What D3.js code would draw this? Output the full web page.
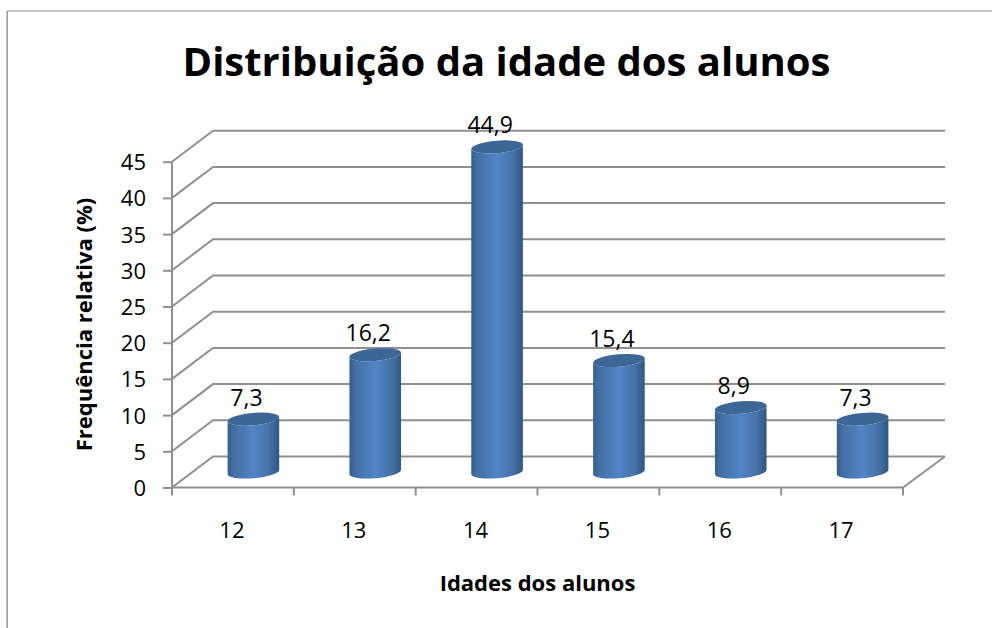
<!DOCTYPE html>
<html>
<head>
<meta charset="utf-8">
<title>Distribuição da idade dos alunos</title>
<script src="https://d3js.org/d3.v7.min.js"></script>
<style>
	body { margin: 0; background: #fff; }
	svg { display: block; }
	text { font-family: "Open Sans", sans-serif; fill: #000; }
</style>
</head>
<body>
<script>
	// data
	var idades = ["12", "13", "14", "15", "16", "17"];
	var frequencias = [7.3, 16.2, 44.9, 15.4, 8.9, 7.3];
	var rotulos = ["7,3", "16,2", "44,9", "15,4", "8,9", "7,3"];
	var yTicks = [0, 5, 10, 15, 20, 25, 30, 35, 40, 45];

	var width = 992, height = 628;
	var depthX = 41, depthY = 31;	// 3d offset front -> back wall
	var barW = 51.6, ry = 6.2, tilt = 2.2;
	var gridColor = "#909090";

	var x = d3.scaleBand().domain(idades).range([172, 903]);
	var y = d3.scaleLinear().domain([0, 45]).range([487.5, 161.7]);

	var svg = d3.select("body").append("svg")
		.attr("width", width)
		.attr("height", height);

	// gradient of the cylinders
	var defs = svg.append("defs");
	var grad = defs.append("linearGradient").attr("id", "cyl");
	grad.append("stop").attr("offset", "0%").attr("stop-color", "#335f90");
	grad.append("stop").attr("offset", "12%").attr("stop-color", "#436fa5");
	grad.append("stop").attr("offset", "50%").attr("stop-color", "#5285c6");
	grad.append("stop").attr("offset", "80%").attr("stop-color", "#4672a8");
	grad.append("stop").attr("offset", "100%").attr("stop-color", "#2f5782");

	// chart frame, only top and left are visible
	svg.append("path")
		.attr("d", "M992,11H7.5V628")
		.attr("fill", "none")
		.attr("stroke", "#8a8a8a")
		.attr("stroke-width", 1);
	svg.append("line")
		.attr("x1", 7).attr("x2", 7).attr("y1", 11).attr("y2", 628)
		.attr("stroke", "#a8a8a8")
		.attr("stroke-width", 1.5);

	// walls
	var grid = svg.append("g")
		.attr("fill", "none")
		.attr("stroke", gridColor)
		.attr("stroke-width", 2);

	grid.selectAll("path.grade")
		.data(yTicks)
		.enter().append("path")
		.attr("class", "grade")
		.attr("d", function(d) {
			return "M172," + y(d) + "L" + (172 + depthX) + "," + (y(d) - depthY) + "H945";
		});

	// right edge of the floor
	grid.append("path")
		.attr("d", "M903," + y(0) + "L945," + (y(0) - depthY));

	// y axis
	var yAxis = d3.axisLeft(y)
		.tickValues(yTicks)
		.tickSize(9)
		.tickPadding(17);
	var gy = svg.append("g")
		.attr("transform", "translate(172,0)")
		.call(yAxis);
	gy.select(".domain").attr("d", "M0," + y(45) + "V" + y(0)).attr("stroke", gridColor).attr("stroke-width", 2);
	gy.selectAll(".tick line").attr("stroke", gridColor).attr("stroke-width", 2);
	gy.selectAll("text").style("font-size", "22px").style("font-family", "Open Sans").attr("fill", "#000").attr("x", -26).attr("y", 1);

	// x axis: labels centred in the band, ticks on the band edges
	var xAxis = d3.axisBottom(x).tickSize(0).tickPadding(35);
	var gx = svg.append("g")
		.attr("transform", "translate(0," + y(0) + ")")
		.call(xAxis);
	gx.select(".domain").attr("d", "M172,0H903").attr("stroke", gridColor).attr("stroke-width", 2);
	gx.selectAll("text").style("font-size", "22px").style("font-family", "Open Sans").attr("fill", "#000").attr("x", -1);

	gx.selectAll("line.marca")
		.data(idades.concat(["fim"]))
		.enter().append("line")
		.attr("class", "marca")
		.attr("x1", function(d, i) { return x.range()[0] + i * x.bandwidth(); })
		.attr("x2", function(d, i) { return x.range()[0] + i * x.bandwidth(); })
		.attr("y1", 0)
		.attr("y2", 8)
		.attr("stroke", gridColor)
		.attr("stroke-width", 2);

	// cylinders
	function cx(i) { return x(idades[i]) + x.bandwidth() / 2 + depthX / 2; }
	var baseY = y(0) - depthY / 2;

	var barras = svg.append("g").selectAll("g")
		.data(frequencias)
		.enter().append("g")
		.attr("transform", function(d, i) { return "translate(" + cx(i) + "," + baseY + ")"; });

	function arco(sweep) {
		return "A" + (barW / 2) + "," + ry + " -4.9 0 " + sweep + " ";
	}

	barras.append("path")
		.attr("fill", "url(#cyl)")
		.attr("d", function(d) {
			var top = -(y(0) - y(d));
			return "M" + (-barW / 2) + "," + (top + tilt)
				+ "V" + tilt
				+ arco(0) + (barW / 2) + "," + (-tilt)
				+ "V" + (top - tilt)
				+ arco(1) + (-barW / 2) + "," + (top + tilt) + "Z";
		});

	barras.append("path")
		.attr("fill", "#3b6696")
		.attr("d", function(d) {
			var top = -(y(0) - y(d));
			return "M" + (-barW / 2) + "," + (top + tilt)
				+ arco(1) + (barW / 2) + "," + (top - tilt)
				+ arco(1) + (-barW / 2) + "," + (top + tilt) + "Z";
		});

	// value labels
	svg.append("g").selectAll("text")
		.data(rotulos)
		.enter().append("text")
		.attr("x", function(d, i) { return cx(i) - 7; })
		.attr("y", function(d, i) { return baseY - (y(0) - y(frequencias[i])) - 13.5; })
		.attr("text-anchor", "middle")
		.style("font-size", "23px")
		.text(function(d) { return d; });

	// titles
	svg.append("text")
		.attr("x", 506.5).attr("y", 76)
		.attr("text-anchor", "middle")
		.style("font-size", "40px")
		.style("font-weight", "700")
		.text("Distribuição da idade dos alunos");

	svg.append("text")
		.attr("x", 537.5).attr("y", 591)
		.attr("text-anchor", "middle")
		.style("font-size", "22px")
		.style("font-weight", "700")
		.text("Idades dos alunos");

	svg.append("text")
		.attr("transform", "translate(92,324.5) rotate(-90)")
		.attr("text-anchor", "middle")
		.style("font-size", "22px")
		.style("font-weight", "700")
		.text("Frequência relativa (%)");
</script>
</body>
</html>
